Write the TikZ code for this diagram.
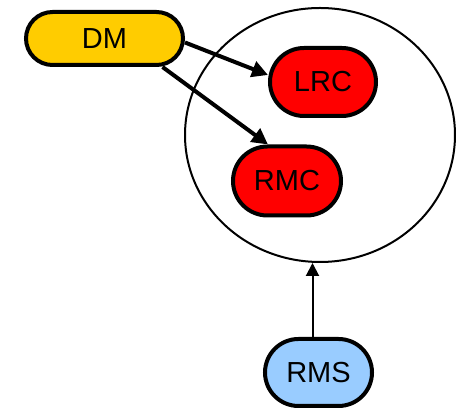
\documentclass[tikz,border=0pt]{standalone}
\usepackage{fontspec}
\setmainfont{Liberation Sans}
\usepackage{tikz}
\usetikzlibrary{arrows.meta,shapes.misc,shapes.geometric,positioning}
\usepackage{xcolor}
\definecolor{dmgold}{RGB}{255,204,0}
\definecolor{rcred}{RGB}{255,0,0}
\definecolor{rmsblue}{RGB}{153,204,255}
\tikzstyle{pill} = [rounded rectangle, draw=black, line width=4pt, inner sep=0pt, text centered, font=\fontsize{29}{31}\selectfont]
\tikzstyle{bigarrow} = [line width=4pt, -{Triangle[length=16pt,width=16pt]}]
\tikzstyle{thinarrow} = [line width=2pt, -{Triangle[length=13pt,width=13pt]}]

\begin{document}
\begin{tikzpicture}[x=1pt,y=1pt]
\useasboundingbox (0,0) rectangle (456,409);
\node[ellipse, draw=black, line width=2pt, minimum width=270pt, minimum height=254pt] (ring) at (320,274) {};
\node[pill, fill=dmgold, minimum width=157pt, minimum height=53pt] (dm) at (104.5,370.5) {DM};
\node[pill, fill=rcred, minimum width=106pt, minimum height=68pt] (lrc) at (323,327) {LRC};
\node[pill, fill=rcred, minimum width=108pt, minimum height=69pt] (rmc) at (287,228) {RMC};
\node[pill, fill=rmsblue, minimum width=107pt, minimum height=67pt] (rms) at (318.5,36.5) {RMS};
\draw[bigarrow] ([yshift=-4pt]dm.east) -- ([yshift=7pt]lrc.west);
\draw[bigarrow] ([xshift=58pt]dm.south) -- ([xshift=-19pt]rmc.north);
\draw[thinarrow] ([xshift=-6pt]rms.north) -- ([xshift=-6pt]rms.north |- ring.south);
\end{tikzpicture}
\end{document}
